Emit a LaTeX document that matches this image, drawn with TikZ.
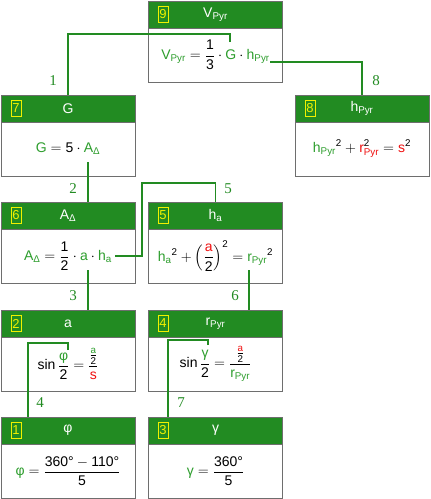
\documentclass[tikz,border=0pt]{standalone}
\usepackage{amsmath}
\usepackage{fontspec}
\setmainfont{Liberation Sans}
\newfontfamily\lblfont{Liberation Serif}
\definecolor{hgreen}{HTML}{228B22}
\definecolor{vgreen}{HTML}{2E9E2E}
\definecolor{vred}{HTML}{F01010}
\definecolor{nyellow}{HTML}{F0F000}
\definecolor{bgray}{HTML}{6E6E6E}
\newcommand{\gvar}[1]{\textcolor{vgreen}{\text{#1}}}
\newcommand{\rvar}[1]{\textcolor{vred}{\text{#1}}}
\newcommand{\tx}[1]{\text{#1}}
\begin{document}
\begin{tikzpicture}[x=1pt,y=-1pt,
  head/.style={draw=bgray,fill=hgreen,text=white,minimum width=134pt,minimum height=27pt,inner sep=0pt,font=\fontsize{14}{16}\selectfont},
  body/.style={draw=bgray,fill=white,minimum width=134pt,minimum height=54pt,inner sep=0pt,font=\fontsize{14}{16}\selectfont},
  num/.style={draw=nyellow,text=nyellow,minimum width=10pt,minimum height=16pt,inner sep=0pt,font=\fontsize{13}{13}\selectfont},
  conn/.style={draw=hgreen,line width=1.6pt},
  lbl/.style={text=hgreen,font=\lblfont\fontsize{15}{15}\selectfont}]
\useasboundingbox (0,0) rectangle (431,499);

\node[body] (b9) at (215.5,55) {$\displaystyle \gvar{V}_{\gvar{Pyr}}=\frac{\tx{1}}{\tx{3}}\cdot\gvar{G}\cdot\gvar{h}_{\gvar{Pyr}}$};
\node[head] (h9) at (215.5,14.5) {V$_{\text{Pyr}}$};
\node[num] (n9) at (163,14.5) {9};

\node[body] (b7) at (68,149) {$\gvar{G}=\tx{5}\cdot\gvar{A}_{\gvar{Δ}}$};
\node[head] (h7) at (68,108.5) {G};
\node[num] (n7) at (16,108.5) {7};

\node[body] (b8) at (362,149) {$\gvar{h}_{\gvar{Pyr}}{}^{\tx{2}}+\rvar{r}^{\tx{2}}_{\rvar{Pyr}}=\rvar{s}^{\tx{2}}$};
\node[head] (h8) at (362,108.5) {h$_{\text{Pyr}}$};
\node[num] (n8) at (310,108.5) {8};

\node[body] (b6) at (68,256) {$\displaystyle \gvar{A}_{\gvar{Δ}}=\frac{\tx{1}}{\tx{2}}\cdot\gvar{a}\cdot\gvar{h}_{\gvar{a}}$};
\node[head] (h6) at (68,215.5) {A$_{\text{Δ}}$};
\node[num] (n6) at (16,215.5) {6};

\node[body] (b5) at (215.5,256) {$\displaystyle \gvar{h}_{\gvar{a}}{}^{\tx{2}}+\left(\frac{\rvar{a}}{\tx{2}}\right)^{\tx{2}}=\gvar{r}_{\gvar{Pyr}}{}^{\tx{2}}$};
\node[head] (h5) at (215.5,215.5) {h$_{\text{a}}$};
\node[num] (n5) at (163,215.5) {5};

\node[body] (b2) at (68,364) {$\displaystyle \tx{sin}\,\frac{\gvar{φ}}{\tx{2}}=\frac{\frac{\gvar{a}}{\tx{2}}}{\rvar{s}}$};
\node[head] (h2) at (68,323.5) {a};
\node[num] (n2) at (16,323.5) {2};

\node[body] (b4) at (215.5,364) {$\displaystyle \tx{sin}\,\frac{\gvar{γ}}{\tx{2}}=\frac{\frac{\rvar{a}}{\tx{2}}}{\gvar{r}_{\gvar{Pyr}}}$};
\node[head] (h4) at (215.5,323.5) {r$_{\text{Pyr}}$};
\node[num] (n4) at (163,323.5) {4};

\node[body] (b1) at (68,471) {$\displaystyle \gvar{φ}=\frac{\tx{360°}-\tx{110°}}{\tx{5}}$};
\node[head] (h1) at (68,430.5) {φ};
\node[num] (n1) at (16,430.5) {1};

\node[body] (b3) at (215.5,471) {$\displaystyle \gvar{γ}=\frac{\tx{360°}}{\tx{5}}$};
\node[head] (h3) at (215.5,430.5) {γ};
\node[num] (n3) at (163,430.5) {3};

\coordinate (g9) at (230,42);
\coordinate (hp9) at (270,62);
\coordinate (a7) at (88,162);
\coordinate (ha6) at (115,256);
\coordinate (k5) at (142,183);
\coordinate (a6) at (88,270);
\coordinate (r5) at (249,270);
\coordinate (phi2) at (68,350);
\coordinate (k4) at (28,343);
\coordinate (gam4) at (208,345);
\coordinate (k7) at (168,340);

\path[conn] (g9) -- ++(0,-8) -| (h7.north);
\path[conn] (hp9) -| (h8.north);
\path[conn] (a7) -- (a7 |- h6.north);
\path[conn] (ha6) -| (k5) -| (h5.north);
\path[conn] (a6) -- (a6 |- h2.north);
\path[conn] (r5) -- (r5 |- h4.north);
\path[conn] (phi2) |- (k4) -- (k4 |- h1.north);
\path[conn] (gam4) |- (k7) -- (k7 |- h3.north);

\node[lbl] (l1) at (53,81) {1};
\node[lbl] (l8) at (376,81) {8};
\node[lbl] (l2) at (73,189) {2};
\node[lbl] (l5) at (228,189) {5};
\node[lbl] (l3) at (73,296) {3};
\node[lbl] (l6) at (235,296) {6};
\node[lbl] (l4) at (40,403) {4};
\node[lbl] (l7) at (181,403) {7};
\end{tikzpicture}
\end{document}
